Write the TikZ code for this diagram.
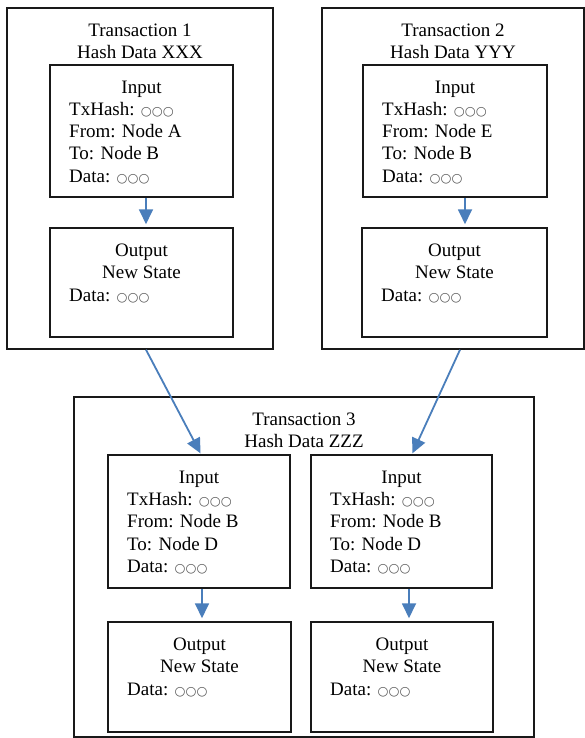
\documentclass[tikz,border=0pt]{standalone}
\usepackage{fontspec}
\setmainfont{Liberation Serif}
\newfontfamily\symfont{DejaVu Sans}
\usetikzlibrary{arrows.meta,fit}
\definecolor{flowblue}{HTML}{4A7EBB}
\definecolor{dotgray}{HTML}{555555}
% placeholder value shown as three hollow circles
\newcommand\ooo{{\symfont\fontsize{12.5}{12}\selectfont\color{dotgray}○○○}}

\tikzset{
  frame/.style={draw=black!90, line width=1.5pt, inner sep=0pt},
  ctr/.style={anchor=base, inner sep=0pt, font=\fontsize{19}{22}\selectfont},
  lft/.style={anchor=base west, inner sep=0pt, font=\fontsize{19}{22}\selectfont},
  flow/.style={draw=flowblue, line width=1.8pt, -{Triangle[width=14pt,length=15pt]}}
}

% transaction frame: name, x1, y1, x2, y2, number, hash
\newcommand\txframe[7]{%
  \node[frame, fit={(#2,#3) (#4,#5)}] (#1) {};
  \node[ctr] (#1-n) at ({(#2+#4)/2},{#3+28.5}) {Transaction #6};
  \node[ctr] (#1-h) at ({(#2+#4)/2},{#3+50.75}) {Hash Data #7};
}
% input box: name, x1, y1, x2, y2, sender, receiver
\newcommand\inbox[7]{%
  \node[frame, fit={(#2,#3) (#4,#5)}] (#1) {};
  \node[ctr] (#1-h) at ({(#2+#4)/2},{#3+28.5}) {Input};
  \node[lft] (#1-k) at ({#2+19},{#3+50.5}) {TxHash: \ooo};
  \node[lft] (#1-f) at ({#2+19},{#3+72.75}) {From: Node #6};
  \node[lft] (#1-o) at ({#2+19},{#3+95}) {To: Node #7};
  \node[lft] (#1-d) at ({#2+19},{#3+117.25}) {Data: \ooo};
}
% output box: name, x1, y1, x2, y2
\newcommand\outbox[5]{%
  \node[frame, fit={(#2,#3) (#4,#5)}] (#1) {};
  \node[ctr] (#1-h) at ({(#2+#4)/2},{#3+28.5}) {Output};
  \node[ctr] (#1-s) at ({(#2+#4)/2},{#3+50.75}) {New State};
  \node[lft] (#1-d) at ({#2+19},{#3+73}) {Data: \ooo};
}

\begin{document}
\begin{tikzpicture}[x=1pt, y=-1pt]
  \useasboundingbox[fill=white] (0,0) rectangle (585,738);

  % first transaction
  \txframe{tx1}{7}{8}{273}{349}{1}{XXX}
  \inbox{in1}{50}{65}{233}{197}{A}{B}
  \outbox{out1}{50}{228}{233}{337}

  % second transaction
  \txframe{tx2}{322}{8}{584}{349}{2}{YYY}
  \inbox{in2}{363}{65}{547}{197}{E}{B}
  \outbox{out2}{362}{228}{547}{337}

  % third transaction, spending both outputs
  \txframe{tx3}{74}{397}{534}{737}{3}{ZZZ}
  \inbox{in3a}{108}{455}{290}{588}{B}{D}
  \inbox{in3b}{311}{455}{492}{588}{B}{D}
  \outbox{out3a}{108}{622}{291}{732}
  \outbox{out3b}{311}{622}{493}{732}

  % input to output inside each transaction
  \coordinate (s1) at ([xshift=4.5pt]in1.south);
  \coordinate (s2) at ([xshift=10pt]in2.south);
  \coordinate (s3) at ([xshift=3pt]in3a.south);
  \coordinate (s4) at ([xshift=7.5pt]in3b.south);
  \draw[flow, shorten >=3pt] (s1) -- (s1 |- out1.north);
  \draw[flow, shorten >=3pt] (s2) -- (s2 |- out2.north);
  \draw[flow, shorten >=3pt] (s3) -- (s3 |- out3a.north);
  \draw[flow, shorten >=3pt] (s4) -- (s4 |- out3b.north);

  % earlier transactions feeding the third one
  \draw[flow, shorten >=1pt] ([xshift=6pt]tx1.south) -- ([xshift=2pt]in3a.north);
  \draw[flow, shorten >=1pt] ([xshift=7pt]tx2.south) -- ([xshift=10.5pt]in3b.north);
\end{tikzpicture}
\end{document}
